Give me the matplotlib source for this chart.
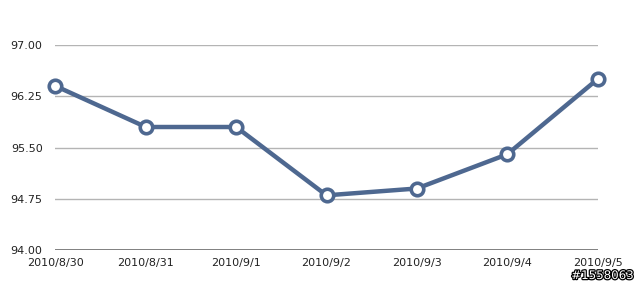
import matplotlib.pyplot as plt
import matplotlib.patheffects as pe
import numpy as np

dates = ["2010/8/30", "2010/8/31", "2010/9/1", "2010/9/2", "2010/9/3", "2010/9/4", "2010/9/5"]
values = [96.40, 95.80, 95.80, 94.80, 94.90, 95.40, 96.50]
yticks = [94.00, 94.75, 95.50, 96.25, 97.00]

blue = "#4e6890"

fig = plt.figure(figsize=(6.4, 2.83), dpi=100)
ax = fig.add_axes([55/640, 33/283, 543/640, 205/283])

x = np.arange(len(dates))
for yt in yticks[1:]:
    ax.axhline(yt, color="#b4b4b4", lw=1.0, zorder=1)
ax.axhline(yticks[0], color="#5a5a5a", lw=1.8, zorder=1)

ax.plot(x, values, color=blue, lw=3.2, marker="o", ms=9, mfc="white",
        mec=blue, mew=2.6, zorder=3, clip_on=False)

ax.set_xlim(-0.005, len(dates) - 1 + 0.005)
ax.set_ylim(94.0, 97.0)
ax.set_yticks(yticks)
ax.set_yticklabels(["%.2f" % v for v in yticks])
ax.set_xticks(x)
ax.set_xticklabels(dates)
ax.tick_params(length=0, labelsize=8, colors="#222222")
ax.tick_params(axis="y", pad=9)
ax.tick_params(axis="x", pad=6)
for s in ax.spines.values():
    s.set_visible(False)

# watermark in the bottom right corner
fig.text(633/640, 1/283, "#1558063", ha="right", va="bottom", fontsize=8.5,
         color="white",
         path_effects=[pe.withStroke(linewidth=1.8, foreground="black")])

fig.savefig("out.png", dpi=100)
